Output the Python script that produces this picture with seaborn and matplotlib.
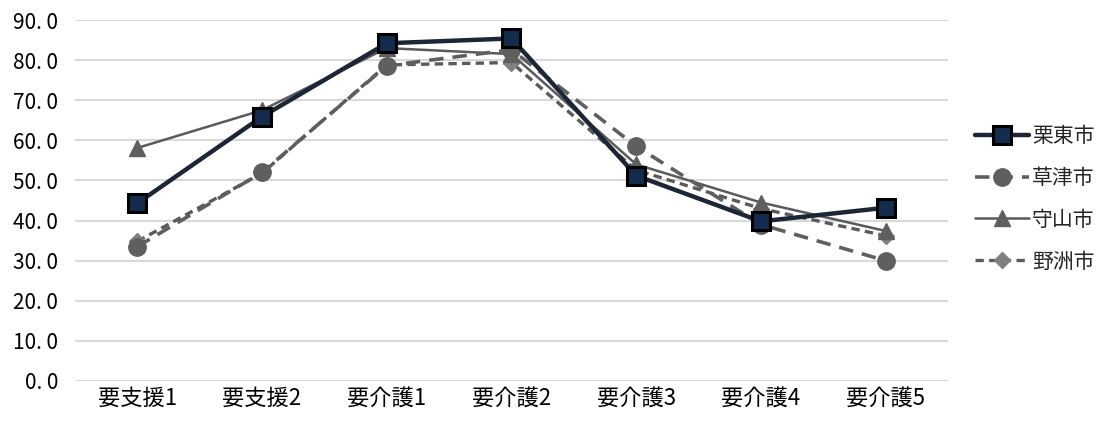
import matplotlib
matplotlib.use("Agg")
import matplotlib.pyplot as plt
import seaborn as sns
import pandas as pd

categories = ["要支援1", "要支援2", "要介護1", "要介護2", "要介護3", "要介護4", "要介護5"]
ritto = [44.3, 65.9, 84.2, 85.4, 51.2, 39.8, 43.2]
kusatsu = [33.5, 52.0, 78.6, 82.6, 58.5, 39.0, 30.0]
moriyama = [58.1, 67.5, 83.0, 81.5, 54.0, 44.5, 37.4]
yasu = [34.8, 51.8, 78.8, 79.4, 52.6, 43.0, 36.2]
series_names = ["栗東市", "草津市", "守山市", "野洲市"]
yticks = [0, 10, 20, 30, 40, 50, 60, 70, 80, 90]

sns.set_theme(style="white")
plt.rcParams['font.family'] = ['Noto Sans CJK JP', 'DejaVu Sans']

rows = []
for name, vals in zip(series_names, [ritto, kusatsu, moriyama, yasu]):
    for i, (c, v) in enumerate(zip(categories, vals)):
        rows.append({"cat": c, "x": i, "value": v, "city": name})
df = pd.DataFrame(rows)

fig = plt.figure(figsize=(11.18, 4.23), dpi=100)
ax = fig.add_axes([0.067, 0.0993, 0.781, 0.8534])

styles = {
    "栗東市": dict(color="#1c2636", lw=3.2, ls="-", marker="s", ms=12.5, mfc="#132b4d", mec="#000000", mew=2.2),
    "草津市": dict(color="#5f5f5f", lw=2.6, ls=(0, (4, 2.5)), marker="o", ms=12.5, mfc="#5f5f5f", mec="#5f5f5f", mew=1),
    "守山市": dict(color="#5a5a5a", lw=1.8, ls="-", marker="^", ms=11, mfc="#5f5f5f", mec="#5f5f5f", mew=1),
    "野洲市": dict(color="#5a5a5a", lw=2.4, ls=(0, (2.5, 1.6)), marker="D", ms=8.5, mfc="#808080", mec="#808080", mew=1),
}
order = ["野洲市", "守山市", "草津市", "栗東市"]
handles = {}
for name in order:
    sub = df[df.city == name]
    st = styles[name]
    sns.lineplot(data=sub, x="x", y="value", ax=ax, color=st["color"], linewidth=st["lw"],
                 linestyle="-", legend=False)
    line = ax.lines[-1]
    line.set_linestyle(st["ls"])
    line.set_marker(st["marker"])
    line.set_markersize(st["ms"])
    line.set_markerfacecolor(st["mfc"])
    line.set_markeredgecolor(st["mec"])
    line.set_markeredgewidth(st["mew"])
    handles[name] = line

ax.set_xlim(-0.5, 6.5)
ax.set_ylim(0, 90)
ax.set_yticks(yticks)
ax.set_yticklabels([f"{v:.1f}".replace(".", ". ") for v in yticks], fontsize=15)
ax.set_xticks(range(len(categories)))
ax.set_xticklabels(categories, fontsize=16)
ax.set_xlabel("")
ax.set_ylabel("")
ax.grid(axis="y", color="#d9d9d9", lw=1.5)
ax.set_axisbelow(True)
for s in ax.spines.values():
    s.set_visible(False)
ax.tick_params(axis="x", length=0, pad=4, colors="#000000")
ax.tick_params(axis="y", length=0, pad=12, colors="#000000")

leg = fig.legend([handles[n] for n in series_names], series_names, loc="center left",
                 bbox_to_anchor=(0.868, 0.53), frameon=False, fontsize=15,
                 handlelength=2.6, labelspacing=0.95, handletextpad=0.15, borderaxespad=0,
                 borderpad=0.2)

fig.savefig("out.png", dpi=100)
